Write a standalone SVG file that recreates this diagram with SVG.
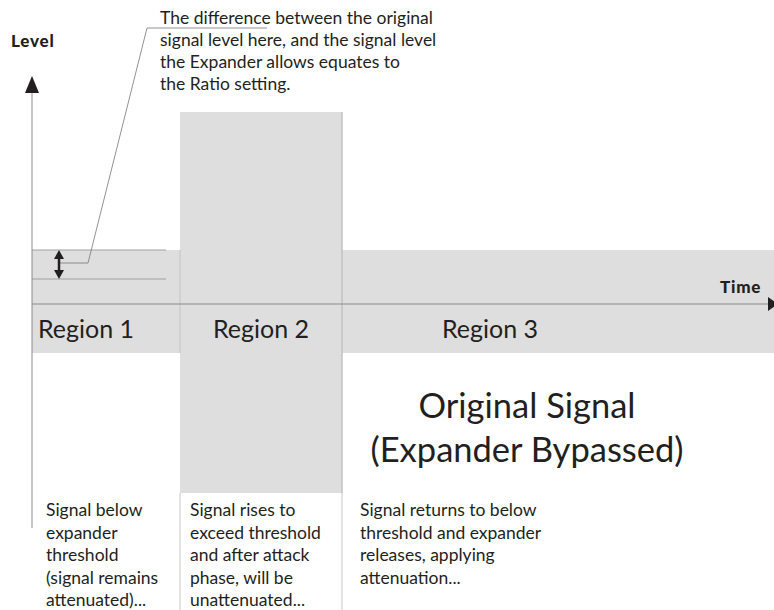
<svg xmlns="http://www.w3.org/2000/svg" width="774" height="610" viewBox="0 0 774 610">
<style>
.t{font-family:Lato,"Open Sans",sans-serif;fill:#231f20}
.lab{font-size:17.5px}
.reg{font-size:25px}
.big{font-size:34.5px}
.ax{font-weight:900;font-size:17px;letter-spacing:0.8px}
.gl{stroke:#a0a0a0;stroke-width:1;fill:none}
</style>
<rect width="774" height="610" fill="#fff"/>
<g id="region1"><rect x="32" y="250" width="148" height="103" fill="#dedede"/>
<text class="t reg" x="38" y="338">Region 1</text></g>
<g id="region2"><rect x="180" y="112" width="162" height="381" fill="#dedede"/>
<text class="t reg" x="213" y="338">Region 2</text></g>
<g id="region3"><rect x="342" y="250" width="432" height="103" fill="#dedede"/>
<text class="t reg" x="442" y="338">Region 3</text></g>
<g id="connectors">
<line x1="180" y1="250" x2="180" y2="353" stroke="#c4c4c4"/>
<line x1="342" y1="112" x2="342" y2="493" stroke="#c2c2c2" stroke-width="1.5"/>
<line x1="180" y1="493" x2="180" y2="610" stroke="#c8c8c8"/>
<line x1="342" y1="493" x2="342" y2="610" stroke="#c8c8c8"/>
<line x1="32" y1="250" x2="166" y2="250" class="gl"/>
<line x1="32" y1="279" x2="166" y2="279" class="gl"/>
<line x1="32" y1="528" x2="32" y2="92" stroke="#8a8a8a" stroke-width="1"/>
<path d="M25,93 L32,76 L39,93 z" fill="#231f20"/>
<line x1="32" y1="304" x2="774" y2="304" stroke="#8a8a8a" stroke-width="1"/>
<path d="M768,297 L778,304 L768,311 z" fill="#231f20"/>
<polyline points="59,263 88,263 147,28 267,28" fill="none" stroke="#777" stroke-width="0.8"/>
<line x1="59" y1="256" x2="59" y2="273" stroke="#231f20" stroke-width="2.5"/>
<path d="M54,259 L59,250 L64,259 z M54,270 L59,279 L64,270 z" fill="#231f20"/>
</g>
<g id="labels">
<text class="t ax" x="11" y="47">Level</text>
<text class="t ax" x="720" y="293">Time</text>
<text class="t lab"><tspan x="160" y="24">The difference between the original</tspan><tspan x="160" y="46">signal level here, and the signal level</tspan><tspan x="160" y="68">the Expander allows equates to</tspan><tspan x="160" y="90">the Ratio setting.</tspan></text>
<text class="t big" x="527" y="418" text-anchor="middle">Original Signal</text>
<text class="t big" x="527" y="462" text-anchor="middle">(Expander Bypassed)</text>
<text class="t lab"><tspan x="46" y="516">Signal below</tspan><tspan x="46" y="539">expander</tspan><tspan x="46" y="561">threshold</tspan><tspan x="46" y="584">(signal remains</tspan><tspan x="46" y="606">attenuated)...</tspan></text>
<text class="t lab"><tspan x="190" y="516">Signal rises to</tspan><tspan x="190" y="539">exceed threshold</tspan><tspan x="190" y="561">and after attack</tspan><tspan x="190" y="584">phase, will be</tspan><tspan x="190" y="606">unattenuated...</tspan></text>
<text class="t lab"><tspan x="360" y="516">Signal returns to below</tspan><tspan x="360" y="539">threshold and expander</tspan><tspan x="360" y="561">releases, applying</tspan><tspan x="360" y="584">attenuation...</tspan></text>
</g>
</svg>
